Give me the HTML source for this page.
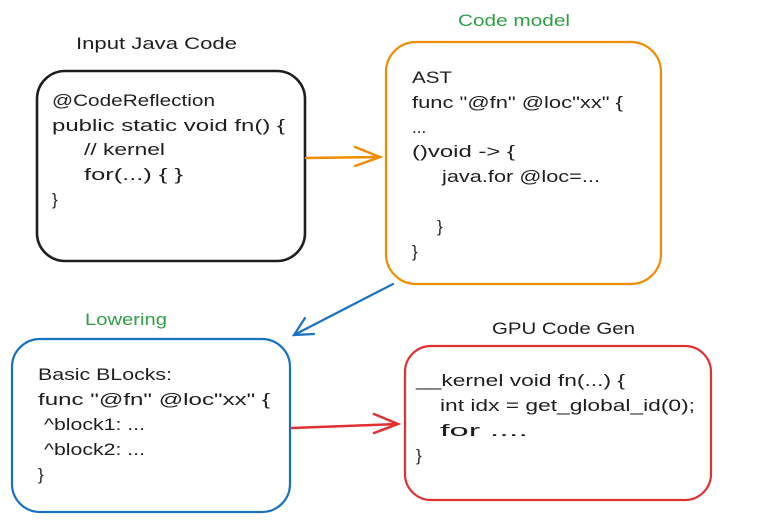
<!DOCTYPE html>
<html><head><meta charset="utf-8"><style>
html,body{margin:0;padding:0;background:#fff;}
svg{display:block;}
text{font-family:"Liberation Sans",sans-serif;font-size:17px;fill:#1e1e1e;}
</style></head><body>
<svg width="775" height="523" viewBox="0 0 775 523" xmlns="http://www.w3.org/2000/svg">
<g fill="none" stroke-width="2.2" stroke-linecap="round">
<rect x="37" y="71" width="268" height="190" rx="28" stroke="#1e1e1e" stroke-width="2.6"/>
<rect x="386" y="42" width="275" height="242" rx="30" stroke="#f08c00"/>
<rect x="12" y="339" width="278" height="173" rx="28" stroke="#1971c2"/>
<rect x="405" y="346" width="306" height="154" rx="26" stroke="#e03131"/>
<path d="M306 158 L380 157" stroke="#f08c00" stroke-width="2.5"/>
<path d="M355 147 L380 157 L355 166" stroke="#f08c00" stroke-width="2.5"/>
<path d="M393 284 L294 335" stroke="#1971c2"/>
<path d="M305 318 L294 335 L314 334" stroke="#1971c2"/>
<path d="M292 428 L398 424" stroke="#e03131" stroke-width="2.5"/>
<path d="M374 414 L398 424 L374 433" stroke="#e03131" stroke-width="2.5"/>
</g>
<g lengthAdjust="spacingAndGlyphs">
<text x="76" y="49" textLength="161" lengthAdjust="spacingAndGlyphs">Input Java Code</text>
<text x="458" y="26" textLength="112" lengthAdjust="spacingAndGlyphs" style="fill:#2f9e44">Code model</text>
<text x="85" y="325" textLength="82" lengthAdjust="spacingAndGlyphs" style="fill:#2f9e44">Lowering</text>
<text x="492" y="334" textLength="143" lengthAdjust="spacingAndGlyphs">GPU Code Gen</text>
<text x="52" y="106" textLength="163" lengthAdjust="spacingAndGlyphs">@CodeReflection</text>
<text x="52" y="131" textLength="233" lengthAdjust="spacingAndGlyphs">public static void fn() {</text>
<text x="84" y="155" textLength="81" lengthAdjust="spacingAndGlyphs">// kernel</text>
<text x="84" y="180" textLength="99" lengthAdjust="spacingAndGlyphs">for(...) { }</text>
<text x="52" y="205">}</text>
<text x="412" y="83" textLength="40" lengthAdjust="spacingAndGlyphs">AST</text>
<text x="412" y="108" textLength="211" lengthAdjust="spacingAndGlyphs">func "@fn" @loc"xx" {</text>
<text x="412" y="133">...</text>
<text x="412" y="157" textLength="103" lengthAdjust="spacingAndGlyphs">()void -&gt; {</text>
<text x="442" y="182" textLength="158" lengthAdjust="spacingAndGlyphs">java.for @loc=...</text>
<text x="437" y="232">}</text>
<text x="412" y="257">}</text>
<text x="38" y="380" textLength="134" lengthAdjust="spacingAndGlyphs">Basic BLocks:</text>
<text x="38" y="405" textLength="232" lengthAdjust="spacingAndGlyphs">func "@fn" @loc"xx" {</text>
<text x="44" y="430" textLength="101" lengthAdjust="spacingAndGlyphs">^block1: ...</text>
<text x="44" y="455" textLength="101" lengthAdjust="spacingAndGlyphs">^block2: ...</text>
<text x="38" y="480">}</text>
<text x="416" y="386" textLength="209" lengthAdjust="spacingAndGlyphs">__kernel void fn(...) {</text>
<text x="440" y="411" textLength="255" lengthAdjust="spacingAndGlyphs">int idx = get_global_id(0);</text>
<text x="440" y="436" textLength="88" lengthAdjust="spacingAndGlyphs">for ....</text>
<text x="416" y="461">}</text>
</g>
</svg>
</body></html>
